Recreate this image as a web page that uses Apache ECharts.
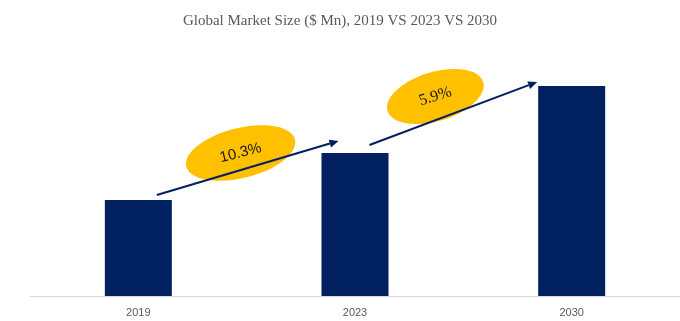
<!DOCTYPE html>
<html>
<head>
<meta charset="utf-8">
<script src="https://cdn.jsdelivr.net/npm/echarts@6/dist/echarts.min.js"></script>
<style>
  html, body { margin: 0; padding: 0; background: #ffffff; }
  #chart { width: 680px; height: 321px; }
</style>
</head>
<body>
<div id="chart"></div>
<script>
// Market size by year (arbitrary units, $ Mn scale)
const categories = ['2019', '2023', '2030'];
const marketSize = [96, 143, 210];
// Growth rates shown between consecutive years
const cagrLabels = ['10.3%', '5.9%'];

const NAVY = '#002060';
const GOLD = '#FFC000';

const chart = echarts.init(document.getElementById('chart'), null, { renderer: 'canvas' });

chart.setOption({
  animation: false,
  backgroundColor: '#ffffff',
  title: {
    text: 'Global Market Size ($ Mn), 2019 VS 2023 VS 2030',
    left: 'center',
    top: 9,
    textStyle: {
      fontFamily: 'Liberation Serif',
      fontWeight: 'normal',
      fontSize: 15,
      color: '#595959'
    }
  },
  grid: { left: 30, right: 0, top: 40, bottom: 25 },
  xAxis: {
    type: 'category',
    data: categories,
    axisLine: { lineStyle: { color: '#d9d9d9', width: 1 } },
    axisTick: { show: false },
    axisLabel: {
      color: '#595959',
      fontSize: 11,
      fontFamily: 'Liberation Sans',
      margin: 11
    }
  },
  yAxis: {
    type: 'value',
    min: 0,
    max: 256,
    show: false,
    splitLine: { show: false }
  },
  series: [{
    type: 'bar',
    data: marketSize,
    barWidth: 67,
    itemStyle: { color: NAVY }
  }]
});

// Growth arrows and badges, placed relative to the bar tops
function arrowGraphics(start, end) {
  const dx = end[0] - start[0], dy = end[1] - start[1];
  const len = Math.hypot(dx, dy);
  const ux = dx / len, uy = dy / len;
  const headLen = 9, headHalf = 4;
  const base = [end[0] - ux * headLen, end[1] - uy * headLen];
  return [
    {
      type: 'line',
      shape: { x1: start[0], y1: start[1], x2: base[0], y2: base[1] },
      style: { stroke: NAVY, lineWidth: 2 }
    },
    {
      type: 'polygon',
      shape: {
        points: [
          end,
          [base[0] - uy * headHalf, base[1] + ux * headHalf],
          [base[0] + uy * headHalf, base[1] - ux * headHalf]
        ]
      },
      style: { fill: NAVY }
    }
  ];
}

function badge(center, rx, ry, angleDeg, label, font) {
  const rot = angleDeg * Math.PI / 180;
  return [
    {
      type: 'ellipse',
      x: center[0], y: center[1],
      rotation: rot,
      shape: { cx: 0, cy: 0, rx: rx, ry: ry },
      style: { fill: GOLD }
    },
    {
      type: 'text',
      x: center[0], y: center[1],
      rotation: rot,
      style: {
        text: label,
        font: font,
        fill: '#1a1a1a',
        align: 'center',
        verticalAlign: 'middle'
      }
    }
  ];
}

const tops = marketSize.map((v, i) => chart.convertToPixel({ seriesIndex: 0 }, [i, v]));

const a1s = [tops[0][0] + 18.5, tops[0][1] - 5];
const a1e = [tops[1][0] - 16.5, tops[1][1] - 12];
const a2s = [tops[1][0] + 14.5, tops[1][1] - 8];
const a2e = [tops[2][0] - 34.5, tops[2][1] - 4];

const mid1 = [(a1s[0] + a1e[0]) / 2, (a1s[1] + a1e[1]) / 2];
const mid2 = [(a2s[0] + a2e[0]) / 2, (a2s[1] + a2e[1]) / 2];

const elements = []
  .concat(badge([mid1[0] - 7, mid1[1] - 15], 56, 25, 14, cagrLabels[0], '15px "Liberation Sans"'))
  .concat(badge([mid2[0] - 18, mid2[1] - 17], 50, 24.5, 17, cagrLabels[1], '16px "Liberation Serif"'))
  .concat(arrowGraphics(a1s, a1e))
  .concat(arrowGraphics(a2s, a2e));

chart.setOption({ graphic: { elements: elements } });
</script>
</body>
</html>
